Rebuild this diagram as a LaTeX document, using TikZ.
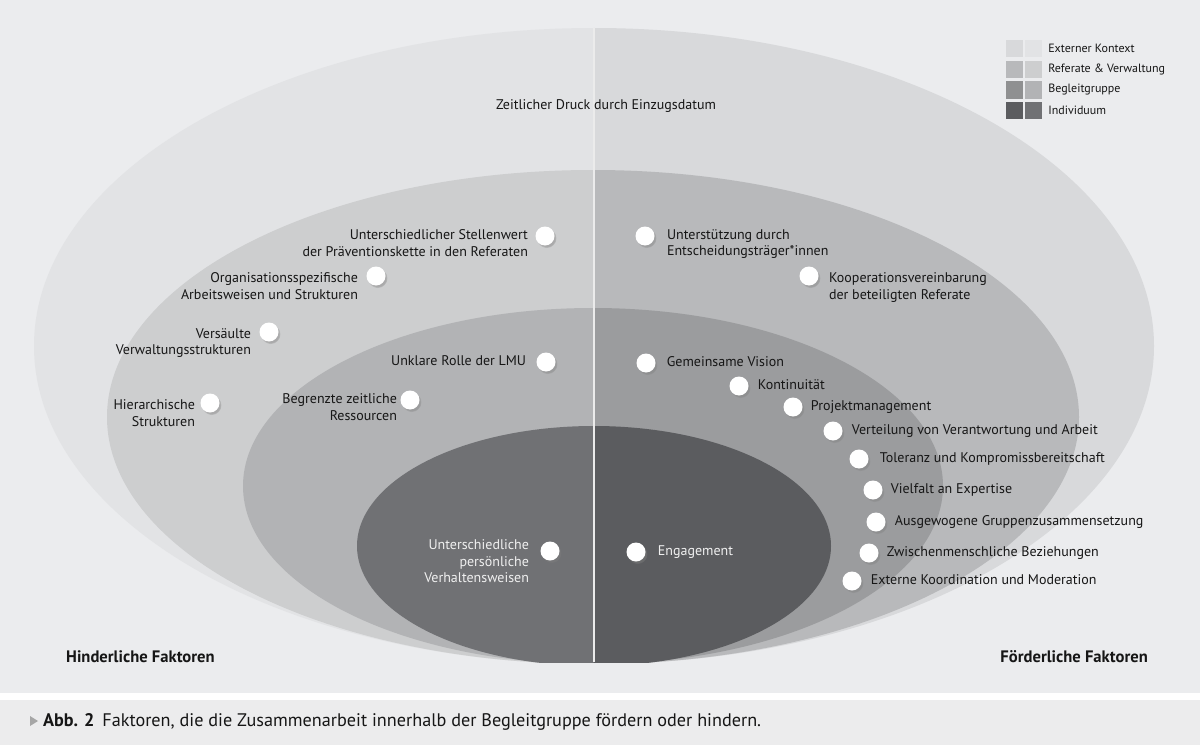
\documentclass[tikz,border=0pt]{standalone}
\usepackage{fontspec}
\setmainfont{PT Sans}
\usepackage{tikz}
\usetikzlibrary{positioning,shadows}

\definecolor{bggray}{HTML}{EBECEE}
\definecolor{extL}{HTML}{E2E3E5}
\definecolor{extR}{HTML}{D8D9DB}
\definecolor{refL}{HTML}{CDCECF}
\definecolor{refR}{HTML}{B8B9BB}
\definecolor{begL}{HTML}{B2B3B5}
\definecolor{begR}{HTML}{9B9C9E}
\definecolor{indL}{HTML}{707174}
\definecolor{indR}{HTML}{5B5C5F}
\definecolor{txtdark}{HTML}{161616}
\definecolor{captiongray}{HTML}{ECECED}

\tikzset{
  dot/.style={circle, fill=white, minimum size=19pt, inner sep=0pt,
    circular drop shadow={shadow xshift=1.5pt, shadow yshift=-2pt, shadow scale=1.05, opacity=0.45}},
  lbl/.style={font=\fontsize{14}{16.8}\selectfont, text=txtdark, inner sep=0pt},
  lblone/.style={lbl, text height=10pt, text depth=2.5pt},
  lbllight/.style={text=white!94!black},
  sidelbl/.style={font=\fontsize{16.6}{19}\selectfont\bfseries, text=txtdark, inner sep=0pt},
  legbox/.style={minimum width=17pt, minimum height=17pt, inner sep=0pt},
  legtxt/.style={font=\fontsize{12}{14}\selectfont, text=txtdark, inner sep=0pt, anchor=west}
}

\begin{document}
\begin{tikzpicture}[x=1pt, y=-1pt]
\useasboundingbox (0,0) rectangle (1200,752);
\fill[white] (0,0) rectangle (1200,752);
\fill[bggray] (0,0) rectangle (1200,693);
\fill[captiongray] (0,700) rectangle (1200,745);

% left half of the rings
\begin{scope}
\clip (0,0) rectangle (594,662);
\fill[extL] (594,346) ellipse (560 and 318);
\fill[refL] (593,417) ellipse (486 and 247);
\fill[begL] (593,486) ellipse (350 and 178);
\fill[indL] (594,546) ellipse (237 and 120);
\end{scope}
% right half of the rings
\begin{scope}
\clip (594,0) rectangle (1200,662);
\fill[extR] (594,346) ellipse (560 and 318);
\fill[refR] (593,417) ellipse (486 and 247);
\fill[begR] (593,486) ellipse (350 and 178);
\fill[indR] (594,546) ellipse (237 and 120);
\end{scope}
\draw[white!92!black, line width=2pt] (594,28) -- (594,662);

% legend
\node[legbox, fill=extR] (legExtA) at (1014.5,48.5) {};
\node[legbox, fill=extL, right=1.5pt of legExtA] (legExtB) {};
\node[legtxt, right=6pt of legExtB] (legExt) {Externer Kontext};
\node[legbox, fill=refR] (legRefA) at (1014.5,69.5) {};
\node[legbox, fill=refL, right=1.5pt of legRefA] (legRefB) {};
\node[legtxt, right=6pt of legRefB] (legRef) {Referate \& Verwaltung};
\node[legbox, fill=begR!92!black] (legBegA) at (1014.5,90) {};
\node[legbox, fill=begL, right=1.5pt of legBegA] (legBegB) {};
\node[legtxt, right=6pt of legBegB] (legBeg) {Begleitgruppe};
\node[legbox, fill=indR] (legIndA) at (1014.5,110.5) {};
\node[legbox, fill=indL, right=1.5pt of legIndA] (legIndB) {};
\node[legtxt, right=6pt of legIndB] (legInd) {Individuum};

% external context
\node[lblone] (tDruck) at (606,106) {Zeitlicher Druck durch Einzugsdatum};

% hindering factors
\node[dot] (dStellen) at (545,236) {};
\node[lbl, align=right, anchor=north east] (tStellen) at ([xshift=-10pt]dStellen.north west) {Unterschiedlicher Stellenwert\\der Präventionskette in den Referaten};
\node[dot] (dOrga) at (376,276) {};
\node[lbl, align=right, anchor=north east] (tOrga) at ([xshift=-11pt,yshift=-3pt]dOrga.north west) {Organisationsspezifische\\Arbeitsweisen und Strukturen};
\node[dot] (dSaeule) at (269,332) {};
\node[lbl, align=right, anchor=north east] (tSaeule) at ([xshift=-11pt,yshift=-3pt]dSaeule.north west) {Versäulte\\Verwaltungsstrukturen};
\node[dot] (dHier) at (210,403) {};
\node[lbl, align=right, anchor=north east] (tHier) at ([xshift=-8pt,yshift=-3pt]dHier.north west) {Hierarchische\\Strukturen};
\node[dot] (dLMU) at (546,362) {};
\node[lblone, left=10pt of dLMU] (tLMU) {Unklare Rolle der LMU};
\node[dot] (dZeit) at (410,400) {};
\node[lbl, align=right, anchor=north east] (tZeit) at ([xshift=-6pt]dZeit.north west) {Begrenzte zeitliche\\Ressourcen};
\node[dot] (dVerh) at (550,551) {};
\node[lbl, lbllight, align=right, anchor=north east] (tVerh) at ([xshift=-14pt,yshift=5pt]dVerh.north west) {Unterschiedliche\\persönliche\\Verhaltensweisen};

% supporting factors
\node[dot] (dUnter) at (645,236) {};
\node[lbl, align=left, anchor=north west] (tUnter) at ([xshift=15pt]dUnter.north east) {Unterstützung durch\\Entscheidungsträger*innen};
\node[dot] (dKoop) at (809,276) {};
\node[lbl, align=left, anchor=north west] (tKoop) at ([xshift=13pt,yshift=-3pt]dKoop.north east) {Kooperationsvereinbarung\\der beteiligten Referate};
\node[dot] (dVision) at (646,363) {};
\node[lblone, right=11pt of dVision] (tVision) {Gemeinsame Vision};
\node[dot] (dKonti) at (739,386) {};
\node[lblone, right=9pt of dKonti] (tKonti) {Kontinuität};
\node[dot] (dProjekt) at (793,407) {};
\node[lblone, right=8pt of dProjekt] (tProjekt) {Projektmanagement};
\node[dot] (dVerteil) at (833,431) {};
\node[lblone, right=9pt of dVerteil] (tVerteil) {Verteilung von Verantwortung und Arbeit};
\node[dot] (dToleranz) at (859,459) {};
\node[lblone, right=11pt of dToleranz] (tToleranz) {Toleranz und Kompromissbereitschaft};
\node[dot] (dVielfalt) at (873,490) {};
\node[lblone, right=8pt of dVielfalt] (tVielfalt) {Vielfalt an Expertise};
\node[dot] (dGruppe) at (876,522) {};
\node[lblone, right=9pt of dGruppe] (tGruppe) {Ausgewogene Gruppenzusammensetzung};
\node[dot] (dBezieh) at (869,553) {};
\node[lblone, right=8pt of dBezieh] (tBezieh) {Zwischenmenschliche Beziehungen};
\node[dot] (dKoord) at (852,581) {};
\node[lblone, right=9pt of dKoord] (tKoord) {Externe Koordination und Moderation};
\node[dot] (dEngage) at (636,552) {};
\node[lblone, lbllight, right=12pt of dEngage] (tEngage) {Engagement};

% side titles
\node[sidelbl, anchor=west] (hinder) at (66,657) {Hinderliche Faktoren};
\node[sidelbl, anchor=east] (foerder) at (1148,657) {Förderliche Faktoren};

% caption
\fill[gray!70] (30,716) -- (38,721) -- (30,726) -- cycle;
\node[font=\fontsize{18.2}{21}\selectfont, text=txtdark, inner sep=0pt, anchor=west] (caption) at (43,722)
  {\textbf{Abb. 2}\, Faktoren, die die Zusammenarbeit innerhalb der Begleitgruppe fördern oder hindern.};
\end{tikzpicture}
\end{document}
